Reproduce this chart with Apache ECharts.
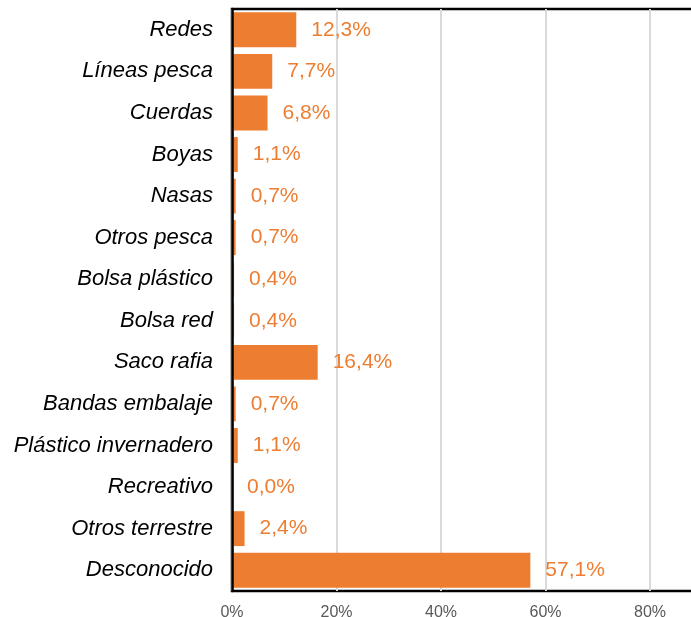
<!DOCTYPE html>
<html>
<head>
<meta charset="utf-8">
<script src="https://cdn.jsdelivr.net/npm/echarts@6/dist/echarts.min.js"></script>
<style>html,body{margin:0;padding:0;background:#fff}#c{width:691px;height:617px}</style>
</head>
<body>
<div id="c"></div>
<script>
const categories = ["Redes","Líneas pesca","Cuerdas","Boyas","Nasas","Otros pesca","Bolsa plástico","Bolsa red","Saco rafia","Bandas embalaje","Plástico invernadero","Recreativo","Otros terrestre","Desconocido"];
const values = [12.3,7.7,6.8,1.1,0.7,0.7,0.4,0.4,16.4,0.7,1.1,0.0,2.4,57.1];
const xTicks = [0,20,40,60,80,100];

const chart = echarts.init(document.getElementById('c'), null, {renderer:'canvas'});
chart.setOption({
  animation:false,
  grid:{left:232, top:9, height:582, width:522.5, outerBoundsMode:'none', containLabel:false, show:true, borderColor:'#000', borderWidth:2.5, backgroundColor:'transparent'},
  xAxis:{type:'value', min:xTicks[0], max:xTicks[xTicks.length-1], interval:20,
    axisLine:{show:false}, axisTick:{show:false},
    splitLine:{show:true, lineStyle:{color:'#d9d9d9', width:2}},
    axisLabel:{color:'#595959', fontFamily:'Liberation Sans', fontSize:16, margin:14, formatter:v=>v+'%'}},
  yAxis:{type:'category', data:categories, inverse:true, z:5,
    axisLine:{show:true, lineStyle:{color:'#000', width:2.5}}, axisTick:{show:false},
    axisLabel:{color:'#000', fontFamily:'Liberation Sans', fontStyle:'italic', fontSize:22, margin:19}},
  series:[{type:'bar', data:values, barCategoryGap:'16%', itemStyle:{color:'#ED7D31'},
    label:{show:true, position:'right', distance:15, color:'#ED7D31', fontFamily:'Liberation Sans', fontSize:21,
      formatter:p=>p.value.toFixed(1).replace('.',',')+'%'}}]
});
</script>
</body>
</html>
